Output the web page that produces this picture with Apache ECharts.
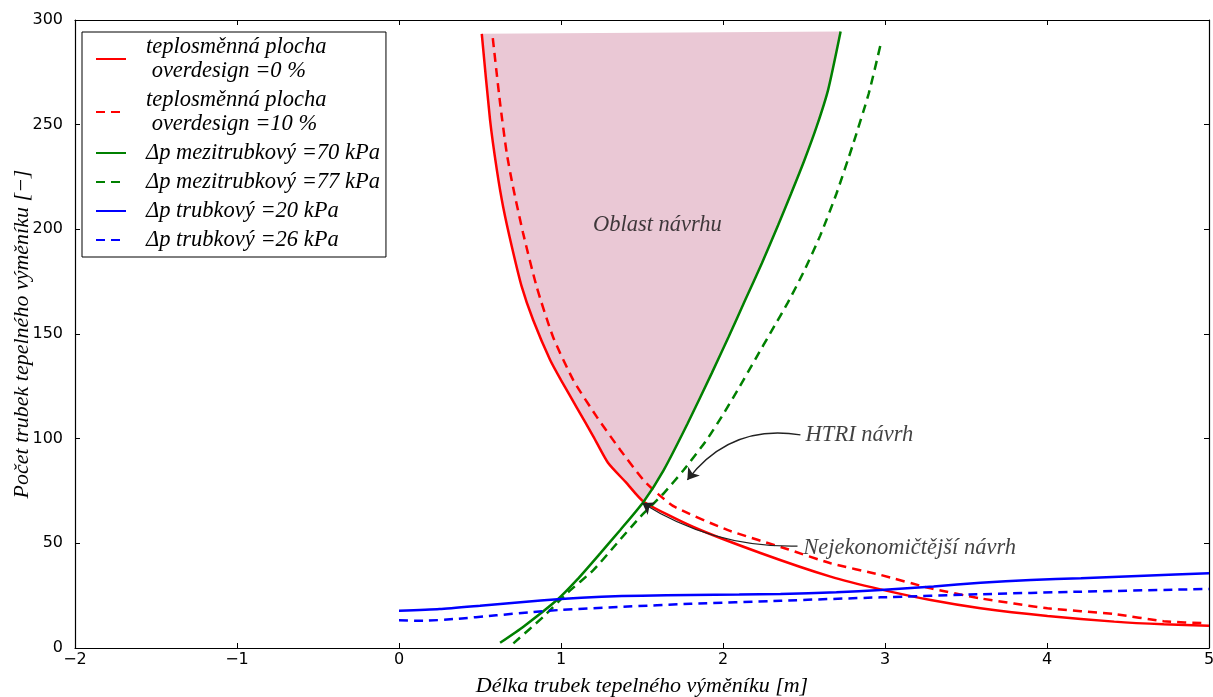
<!DOCTYPE html>
<html>
<head>
<meta charset="utf-8">
<script src="https://cdn.jsdelivr.net/npm/echarts@6/dist/echarts.min.js"></script>
<style>
html,body{margin:0;padding:0;background:#fff;}
#chart{width:1213px;height:697px;}
</style>
</head>
<body>
<div id="chart"></div>
<script>
// ---- data (x = tube length [m], y = number of tubes) ----
const xTicks = { min: -2, max: 5, interval: 1 };
const yTicks = { min: 0, max: 300, interval: 50 };

const seriesNames = [
  'teplosměnná plocha\n overdesign =0 %',
  'teplosměnná plocha\n overdesign =10 %',
  'Δp mezitrubkový =70 kPa',
  'Δp mezitrubkový =77 kPa',
  'Δp trubkový =20 kPa',
  'Δp trubkový =26 kPa'
];

const areaOverdesign0 = [
  [0.511,293.4],[0.562,252.3],[0.604,228.4],[0.643,210.7],[0.697,191.6],[0.758,172.5],
  [0.828,156.7],[0.933,137.6],[1.0,128.0],[1.1,114.5],[1.2,101.0],[1.29,88.5],[1.4,79.2],[1.51,69.9],
  [1.817,57.8],[2.231,45.4],[2.664,34.1],[2.973,28.0],[3.282,22.9],[3.59,19.0],
  [4.003,15.3],[4.415,12.6],[4.72,11.3],[5.0,10.6]
];
const areaOverdesign10 = [
  [0.579,291.3],[0.624,260.3],[0.665,236.4],[0.704,220.2],[0.766,198.2],[0.85,172.5],
  [0.951,148.6],[1.075,128.1],[1.221,110.4],[1.366,94.6],[1.508,80.3],[1.60,73.5],
  [1.70,67.5],[2.027,56.4],[2.4,47.2],[2.664,40.5],[2.973,34.9],[3.282,28.5],
  [3.59,23.7],[4.003,19.0],[4.415,16.2],[4.72,12.8],[4.99,11.8]
];
const dpShell70 = [
  [0.624,2.5],[0.768,10.2],[0.975,22.9],[1.098,32.5],[1.242,45.2],[1.366,56.4],[1.51,69.9],
  [1.634,85.0],[1.78,107],[1.93,131.2],[2.035,148.7],[2.137,166.2],[2.24,183.8],[2.34,202],
  [2.42,217],[2.5,232.5],[2.58,249.5],[2.65,267],[2.726,294.5]
];
const dpShell77 = [
  [0.706,2.2],[0.892,15.0],[1.036,26.1],[1.201,37.3],[1.345,50.0],[1.49,62.7],[1.634,73.9],
  [1.757,85.0],[1.9,99.5],[2.0,111.5],[2.1,124.5],[2.2,138],[2.3,151.5],[2.4,165],[2.5,180],
  [2.6,197],[2.7,217],[2.8,240],[2.9,265],[2.977,289.7]
];
const dpTube20 = [
  [0,17.8],[0.25,18.6],[0.5,20.2],[0.75,21.9],[1.0,23.4],[1.25,24.5],[1.5,25.0],[1.8,25.3],
  [2.1,25.5],[2.355,25.8],[2.7,26.6],[2.973,27.7],[3.3,29.4],[3.59,31.2],[3.9,32.5],
  [4.209,33.3],[4.6,34.5],[5.0,35.7]
];
const dpTube26 = [
  [0,13.2],[0.15,13.0],[0.35,13.9],[0.6,15.6],[0.8,17.0],[1.0,18.2],[1.386,19.7],[1.8,21.1],
  [2.355,22.6],[2.973,24.2],[3.59,25.7],[4.209,26.9],[5.0,28.2]
];

const annotationTexts = [
  { text: 'Oblast návrhu', at: [1.595, 202], pos: 'inside' },
  { text: 'HTRI návrh', at: [2.51, 101.8], pos: 'right' },
  { text: 'Nejekonomičtější návrh', at: [2.496, 47.8], pos: 'right' }
];
const arrows = [
  { from: [2.478, 101.8], to: [1.78, 80.3], curveness: -0.3 },
  { from: [2.46, 48.7], to: [1.502, 69.3], curveness: 0.15 }
];

// design region: left boundary = overdesign 0 % curve (above crossing), right = Δp 70 kPa curve
const crossX = 1.51;
const regionLeft = areaOverdesign0.filter(p => p[0] <= crossX);
const regionRight = dpShell70.filter(p => p[0] >= crossX);

const serifFont = 'Liberation Serif';
const sansFont = 'DejaVu Sans';

const chart = echarts.init(document.getElementById('chart'), null, { renderer: 'canvas' });

function lineSeries(name, data, color, dashed) {
  return {
    name, type: 'line', data, showSymbol: false, symbol: 'circle', smooth: 0.2,
    xAxisIndex: 0, yAxisIndex: 0, z: 3, silent: true,
    lineStyle: { color, width: 2.5, type: dashed ? [9, 6] : 'solid' },
    itemStyle: { color }
  };
}

const option = {
  animation: false,
  backgroundColor: '#ffffff',
  grid: { left: 75, right: 4, top: 20, bottom: 49, containLabel: false, outerBoundsMode: 'none' },
  legend: {
    data: seriesNames,
    orient: 'vertical',
    left: 82, top: 32,
    backgroundColor: '#ffffff',
    borderColor: '#000000', borderWidth: 1, borderRadius: 0,
    padding: [3, 6, 5, 13],
    itemGap: 5, itemWidth: 30, itemHeight: 14,
    selectedMode: false,
    itemStyle: { opacity: 0 },
    textStyle: { fontFamily: serifFont, fontStyle: 'italic', fontSize: 22.5, lineHeight: 24, color: '#000', padding: [0, 0, 0, 15] }
  },
  xAxis: [{
    type: 'value', min: xTicks.min, max: xTicks.max, interval: xTicks.interval, position: 'bottom',
    name: 'Délka trubek tepelného výměníku [m]', nameLocation: 'middle', nameGap: 27,
    nameTextStyle: { fontFamily: serifFont, fontStyle: 'italic', fontSize: 22, color: '#000' },
    axisLine: { show: true, onZero: false, lineStyle: { color: '#000', width: 1.2 } },
    axisTick: { show: true, inside: true, length: 5, lineStyle: { color: '#000' } },
    axisLabel: { fontFamily: sansFont, fontSize: 16, color: '#000', margin: 4,
      formatter: v => v < 0 ? '\u2212' + Math.abs(v) : String(v) },
    splitLine: { show: false }
  }, {
    type: 'value', min: xTicks.min, max: xTicks.max, interval: xTicks.interval, position: 'top',
    axisLine: { show: true, onZero: false, lineStyle: { color: '#000', width: 1.2 } },
    axisTick: { show: true, inside: true, length: 5, lineStyle: { color: '#000' } },
    axisLabel: { show: false }, splitLine: { show: false }
  }],
  yAxis: [{
    type: 'value', min: yTicks.min, max: yTicks.max, interval: yTicks.interval, position: 'left',
    name: 'Počet trubek tepelného výměníku [−]', nameLocation: 'middle', nameGap: 42, nameRotate: 90,
    nameMoveOverlap: false,
    nameTextStyle: { fontFamily: serifFont, fontStyle: 'italic', fontSize: 22, color: '#000' },
    axisLine: { show: true, onZero: false, lineStyle: { color: '#000', width: 1.2 } },
    axisTick: { show: true, inside: true, length: 5, lineStyle: { color: '#000' } },
    axisLabel: { fontFamily: sansFont, fontSize: 16, color: '#000', margin: 12 },
    splitLine: { show: false }
  }, {
    type: 'value', min: yTicks.min, max: yTicks.max, interval: yTicks.interval, position: 'right',
    axisLine: { show: true, onZero: false, lineStyle: { color: '#000', width: 1.2 } },
    axisTick: { show: true, inside: true, length: 5, lineStyle: { color: '#000' } },
    axisLabel: { show: false }, splitLine: { show: false }
  }],
  series: [
    {
      name: 'region', type: 'custom', silent: true, z: 1,
      xAxisIndex: 0, yAxisIndex: 0,
      data: [[0, 0]],
      renderItem: function (params, api) {
        const pts = regionLeft.concat(regionRight).map(p => api.coord(p));
        return { type: 'polygon', shape: { points: pts }, style: { fill: '#eac8d5', stroke: null } };
      }
    },
    lineSeries(seriesNames[0], areaOverdesign0, '#ff0000', false),
    lineSeries(seriesNames[1], areaOverdesign10, '#ff0000', true),
    lineSeries(seriesNames[2], dpShell70, '#008000', false),
    lineSeries(seriesNames[3], dpShell77, '#008000', true),
    lineSeries(seriesNames[4], dpTube20, '#0000ff', false),
    lineSeries(seriesNames[5], dpTube26, '#0000ff', true),
    {
      name: 'annotations', type: 'scatter', silent: true, z: 5,
      xAxisIndex: 0, yAxisIndex: 0, symbolSize: 0,
      data: annotationTexts.map(a => ({
        value: a.at, name: a.text,
        label: { show: true, position: a.pos, distance: 0, formatter: a.text,
          fontFamily: serifFont, fontStyle: 'italic', fontSize: 22.5, color: '#111' }
      }))
    },
    {
      name: 'arrows', type: 'lines', coordinateSystem: 'cartesian2d', silent: true, z: 6,
      xAxisIndex: 0, yAxisIndex: 0,
      symbol: ['none', 'arrow'], symbolSize: [8, 11],
      lineStyle: { color: '#222', width: 1.3, opacity: 1 },
      data: arrows.map(a => ({ coords: [a.from, a.to], lineStyle: { curveness: a.curveness } }))
    }
  ]
};
chart.setOption(option);
</script>
</body>
</html>
